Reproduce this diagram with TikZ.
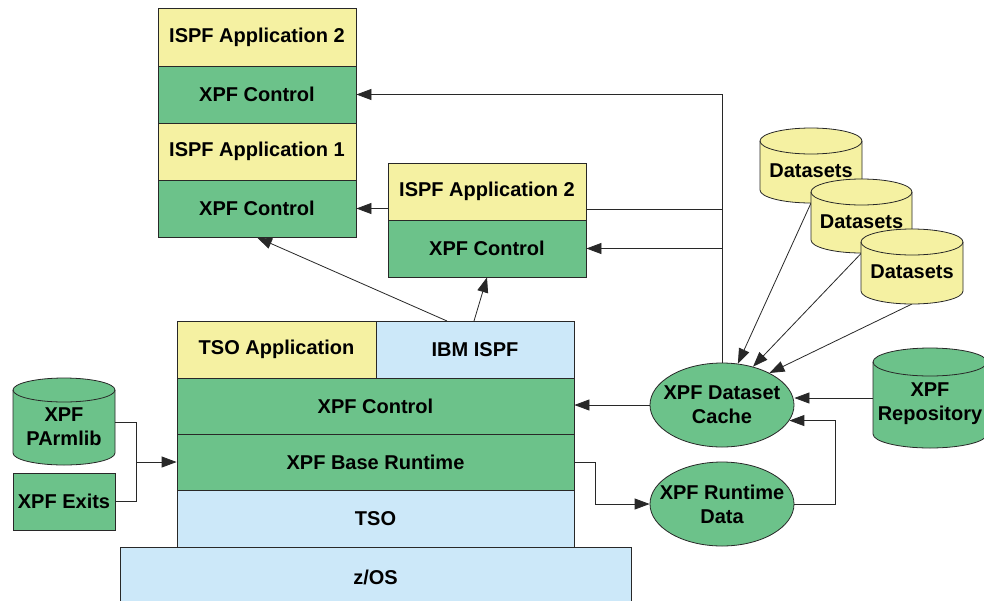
\documentclass[tikz,border=0pt]{standalone}
\usepackage{fontspec}
\setmainfont{Liberation Sans}
\usetikzlibrary{arrows.meta,calc,shapes.geometric}
\definecolor{cyel}{RGB}{245,241,162}
\definecolor{cgrn}{RGB}{108,194,138}
\definecolor{cblu}{RGB}{204,232,249}
\definecolor{cln}{RGB}{40,40,40}
\newcommand{\drawcyl}[6]{%
 \pgfmathsetmacro\rxv{(#2-#1)/2}%
 \pgfmathsetmacro\ytv{-#3-#5}%
 \pgfmathsetmacro\ybv{-#4+#5}%
 \draw[ln,fill=#6] (#1,\ytv) -- (#1,\ybv) arc[start angle=180,end angle=360,x radius=\rxv,y radius=#5] -- (#2,\ytv) arc[start angle=0,end angle=180,x radius=\rxv,y radius=#5] -- cycle;
 \draw[ln] (#1,\ytv) arc[start angle=180,end angle=360,x radius=\rxv,y radius=#5];
}
\tikzset{
 ln/.style={draw=cln,line width=0.8pt},
 boxy/.style={ln,rectangle,inner sep=0pt,align=center,font=\fontsize{20}{24}\selectfont\bfseries},
 txt/.style={inner sep=0pt,align=center,font=\fontsize{20}{24}\selectfont\bfseries},
 ell/.style={ln,ellipse,fill=cgrn,minimum width=144pt,minimum height=84pt,inner sep=0pt},
 arr/.style={draw=cln,line width=0.8pt,-{Triangle[length=15pt,width=11pt]}},
 con/.style={draw=cln,line width=0.8pt}
}
\begin{document}
\begin{tikzpicture}[x=1pt,y=1pt]
\useasboundingbox (0,0) rectangle (984,-600);
\clip (0,0) rectangle (984,-600);
\fill[white] (0,0) rectangle (984,-600);
% top stack
\node[boxy,fill=cyel,minimum width=198pt,minimum height=58pt] (a2) at (257,-37) {ISPF Application 2};
\node[boxy,fill=cgrn,minimum width=198pt,minimum height=57pt] (c2) at (257,-94.5) {XPF Control};
\node[boxy,fill=cyel,minimum width=198pt,minimum height=57pt] (a1) at (257,-151.5) {ISPF Application 1};
\node[boxy,fill=cgrn,minimum width=198pt,minimum height=57pt] (c1) at (257,-208.5) {XPF Control};
% middle stack
\node[boxy,fill=cyel,minimum width=198pt,minimum height=57pt] (ma) at (487,-191.5) {ISPF Application 2};
\node[boxy,fill=cgrn,minimum width=198pt,minimum height=57pt] (mc) at (487,-248.5) {XPF Control};
% bottom stack
\node[boxy,fill=cyel,minimum width=199pt,minimum height=57pt] (tsoapp) at (276.5,-349.5) {TSO Application};
\node[boxy,fill=cblu,minimum width=198pt,minimum height=57pt] (ispf) at (475,-349.5) {IBM ISPF};
\node[boxy,fill=cgrn,minimum width=397pt,minimum height=56pt] (ctrl) at (375.5,-406) {XPF Control};
\node[boxy,fill=cgrn,minimum width=397pt,minimum height=56pt] (base) at (375.5,-462) {XPF Base Runtime};
\node[boxy,fill=cblu,minimum width=397pt,minimum height=57pt] (tso) at (375.5,-518.5) {TSO};
\node[boxy,fill=cblu,minimum width=511pt,minimum height=60pt] (zos) at (375.5,-577) {z/OS};
% left side
\drawcyl{13}{115}{378}{465}{12}{cgrn}
\node[txt] (parm) at (64,-427) {XPF\\PArmlib};
\node[boxy,fill=cgrn,minimum width=102pt,minimum height=57pt] (exits) at (64,-501.5) {XPF Exits};
% ellipses
\node[ell] (cache) at (722,-405) {};
\node[txt] (cachetxt) at (cache) {XPF Dataset\\Cache};
\node[ell] (rtd) at (722,-504) {};
\node[txt] (rtdtxt) at (rtd) {XPF Runtime\\Data};
% repository
\drawcyl{873}{987}{348}{448}{14}{cgrn}
\node[txt] (repo) at (930,-404) {XPF\\Repository};
% dataset arrows (behind cylinders)
\coordinate (d1b) at (811,-203);
\coordinate (d2b) at (861.5,-253);
\coordinate (d3b) at (912,-304);
\draw[arr] (d1b) -- (cache.69);
\draw[arr] (d2b) -- (cache.51);
\draw[arr] (d3b) -- (cache.34);
% datasets
\drawcyl{760}{862}{128}{203}{13}{cyel}
\node[txt] (ds1) at (811,-171) {Datasets};
\drawcyl{811}{912}{179}{253}{13}{cyel}
\node[txt] (ds2) at (861.5,-222) {Datasets};
\drawcyl{861}{963}{229}{304}{13}{cyel}
\node[txt] (ds3) at (912,-272) {Datasets};
% connectors
\coordinate (maR) at (586,-209);
\coordinate (s1) at (447,-321);
\coordinate (s2) at (474,-321);
\coordinate (parmR) at (115,-422);
\coordinate (jn) at (136,-462);
\coordinate (repoW) at (873,-398);
\draw[arr] (cache.north) |- (c2.east);
\draw[con] (maR) -- (maR -| cache.north);
\draw[arr] (mc.east -| cache.north) -- (mc.east);
\draw[arr] (c1.east -| ma.west) -- (c1.east);
\draw[arr] (s1) -- (c1.south);
\draw[arr] (s2) -- (mc.south);
\draw[arr] (cache.west) -- (cache.west -| ctrl.east);
\draw[arr] (base.east) -- ++(21,0) |- (rtd.west);
\draw[arr] (rtd.east) -- ++(41,0) |- (cache.-13);
\draw[arr] (repoW) -- (repoW -| cache.east);
\draw[con] (parmR) -| (jn);
\draw[con] (exits.east) -| (jn);
\draw[arr] (jn) -- (base.west);
\end{tikzpicture}
\end{document}
